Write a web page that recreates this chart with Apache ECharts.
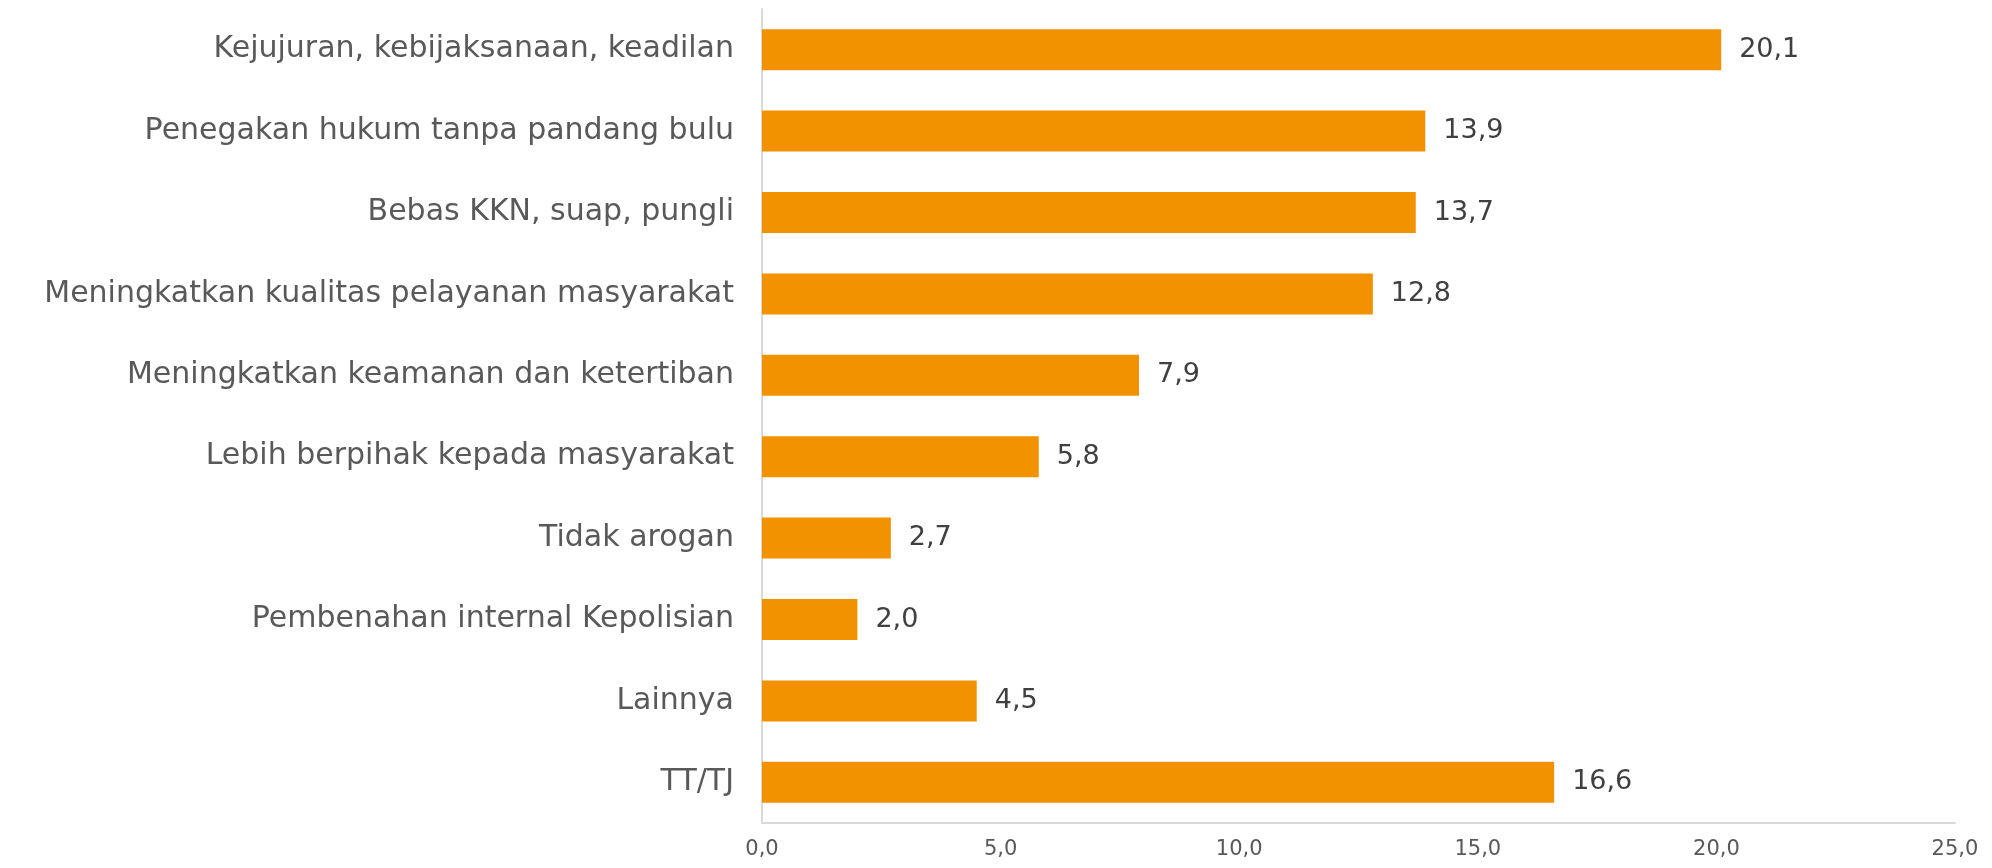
<!DOCTYPE html>
<html>
<head>
<meta charset="utf-8">
<script src="https://cdn.jsdelivr.net/npm/echarts@6/dist/echarts.min.js"></script>
<style>
  html, body { margin: 0; padding: 0; background: #fff; }
  #chart { width: 1992px; height: 868px; }
</style>
</head>
<body>
<div id="chart"></div>
<script>
// categories top to bottom as shown
var categories = [
    "Kejujuran, kebijaksanaan, keadilan",
    "Penegakan hukum tanpa pandang bulu",
    "Bebas KKN, suap, pungli",
    "Meningkatkan kualitas pelayanan masyarakat",
    "Meningkatkan keamanan dan ketertiban",
    "Lebih berpihak kepada masyarakat",
    "Tidak arogan",
    "Pembenahan internal Kepolisian",
    "Lainnya",
    "TT/TJ"
];
var values = [20.1, 13.9, 13.7, 12.8, 7.9, 5.8, 2.7, 2.0, 4.5, 16.6];
var xTicks = [0, 5, 10, 15, 20, 25];

var fontName = "'DejaVu Sans', sans-serif";

var chart = echarts.init(document.getElementById('chart'));
var option = {
    animation: false,
    grid: {
        left: 762,
        right: 37,
        top: 9,
        bottom: 45
    },
    xAxis: {
        type: 'value',
        min: xTicks[0],
        max: xTicks[xTicks.length - 1],
        interval: 5,
        axisLine: { show: true, lineStyle: { color: '#d9d9d9', width: 2 } },
        axisTick: { show: false },
        splitLine: { show: false },
        axisLabel: {
            color: '#595959',
            fontFamily: fontName,
            fontSize: 21,
            margin: 16,
            formatter: function (v) { return v.toFixed(1).replace('.', ','); }
        }
    },
    yAxis: {
        type: 'category',
        inverse: true,
        data: categories,
        axisLine: { show: true, lineStyle: { color: '#d9d9d9', width: 2 } },
        axisTick: { show: false },
        axisLabel: {
            color: '#595959',
            fontFamily: fontName,
            fontSize: 30,
            margin: 28
        }
    },
    series: [{
        type: 'bar',
        data: values,
        barWidth: 41,
        itemStyle: { color: '#f39200' },
        label: {
            show: true,
            position: 'right',
            distance: 18,
            color: '#404040',
            fontFamily: fontName,
            fontSize: 27,
            formatter: function (p) { return p.value.toFixed(1).replace('.', ','); }
        }
    }]
};
chart.setOption(option);
</script>
</body>
</html>
